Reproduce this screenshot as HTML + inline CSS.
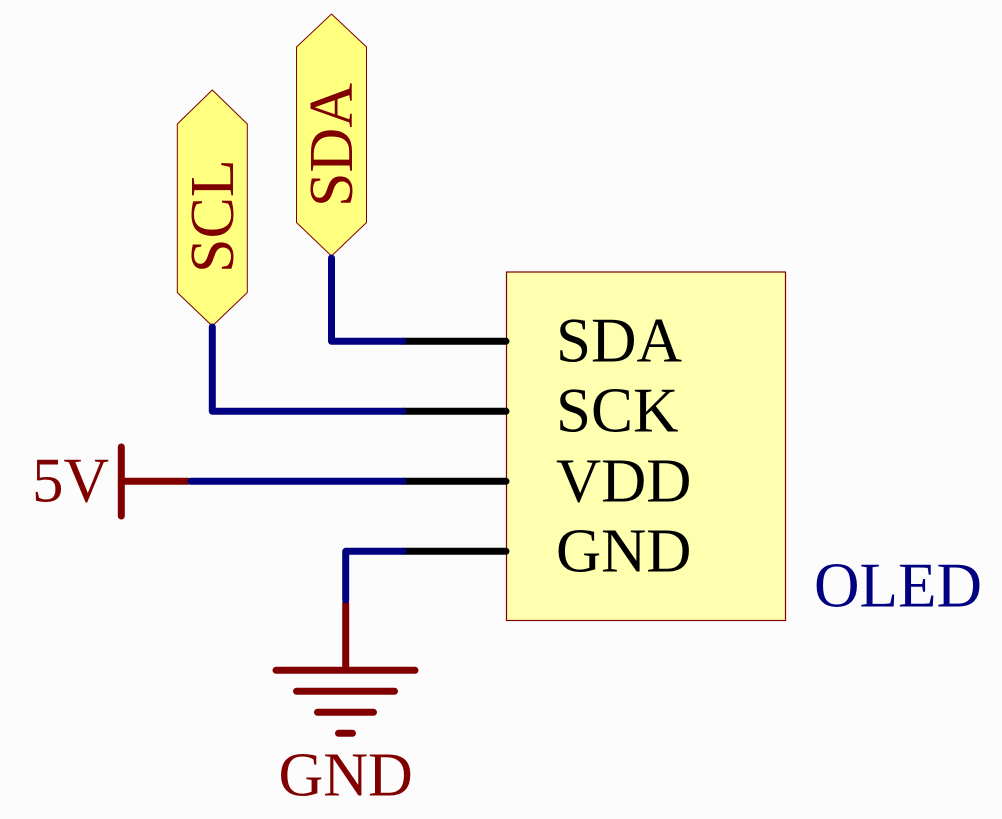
<!DOCTYPE html>
<html>
<head>
<meta charset="utf-8">
<style>
html,body{margin:0;padding:0;background:#fcfcfc;width:1002px;height:819px;overflow:hidden}
svg{display:block}
text{font-family:"Liberation Serif",serif}
</style>
</head>
<body>
<svg width="1002" height="819" viewBox="0 0 1002 819" xmlns="http://www.w3.org/2000/svg">
<rect width="1002" height="819" fill="#fcfcfc"/>
<rect x="506.5" y="272" width="279" height="348.5" fill="#ffffb0" stroke="#800000" stroke-width="1.2"/>
<polygon points="331.5,14 366.5,47 366.5,222.5 331.5,256 296.5,222.5 296.5,47" fill="#ffff80" stroke="#800000" stroke-width="1"/>
<polygon points="212.3,90 247.3,124 247.3,292.5 212.3,326 177.3,292.5 177.3,124" fill="#ffff80" stroke="#800000" stroke-width="1"/>
<g fill="none" stroke-width="7" stroke-linecap="round" stroke-linejoin="round">
<g stroke="#000">
<path d="M403 341.3H506"/><path d="M403 411.3H506"/><path d="M403 481.3H506"/><path d="M403 551.3H506"/>
</g>
<g stroke="#800000">
<path d="M121.3 447V516"/><path d="M121.3 481.3H188"/>
<path d="M345.7 603V670"/>
<path d="M276 670.3H415"/><path d="M296.5 691.3H394.5"/><path d="M317.5 712.3H373.5"/><path d="M338.5 733.3H352.5"/>
</g>
<g stroke="#000080">
<path d="M331.5 258V341.3H403"/>
<path d="M212.3 327V411.3H403"/>
<path d="M191 481.3H403"/>
<path d="M345.7 600V551.3H403"/>
</g>
</g>
<g font-size="63" fill="#000">
<text x="556" y="361.5">SDA</text>
<text x="556" y="431.5">SCK</text>
<text x="556" y="501.5" font-size="62.5">VDD</text>
<text x="556" y="571.5" font-size="62.5">GND</text>
</g>
<text x="814" y="606.5" font-size="63" fill="#000080">OLED</text>
<text x="32" y="501.5" font-size="63" fill="#800000">5V</text>
<text x="278.5" y="795.5" font-size="62" fill="#800000">GND</text>
<text transform="translate(233,273) rotate(-90)" font-size="62" fill="#800000">SCL</text>
<text transform="translate(352,207) rotate(-90)" font-size="62" fill="#800000">SDA</text>
</svg>
</body>
</html>
